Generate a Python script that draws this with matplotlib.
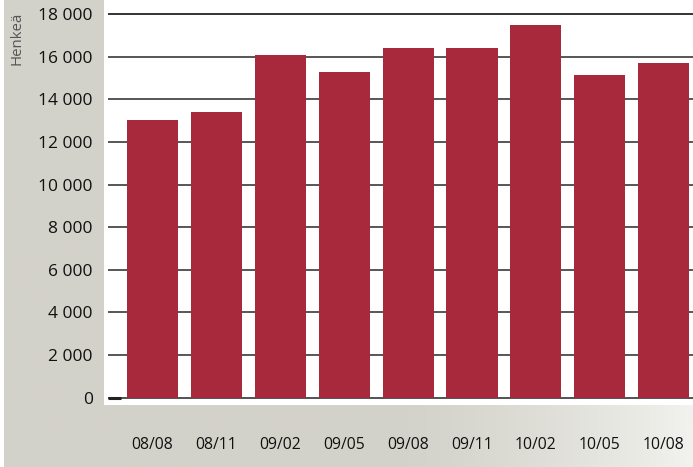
import numpy as np
import matplotlib.pyplot as plt
from matplotlib.patches import Rectangle

# data
periods = ["08/08", "08/11", "09/02", "09/05", "09/08", "09/11", "10/02", "10/05", "10/08"]
persons = [13050, 13400, 16100, 15300, 16400, 16400, 17500, 15150, 15700]
yticks = [0, 2000, 4000, 6000, 8000, 10000, 12000, 14000, 16000, 18000]

W, H = 693, 467
fig = plt.figure(figsize=(W / 100, H / 100), dpi=100)

# gray gradient background
bg = fig.add_axes([0, 0, 1, 1])
t = np.linspace(0, 1, 300)
shade = np.where(t < 0.55, 0.0, ((t - 0.55) / 0.45) ** 1.5)
c0 = np.array([211, 210, 202]) / 255
c1 = np.array([242, 242, 238]) / 255
grad = c0[None, :] + shade[:, None] * (c1 - c0)[None, :]
bg.imshow(grad[None, :, :], aspect="auto", extent=[0, 1, 0, 1])
bg.add_patch(Rectangle((0, 0), 4 / W, 1, color="white", lw=0))
bg.set_xlim(0, 1)
bg.set_ylim(0, 1)
bg.axis("off")

left, top, bottom = 104, 0, 405
ax = fig.add_axes([left / W, 1 - bottom / H, 1 - left / W, (bottom - top) / H])
ax.set_facecolor("white")

x = np.arange(len(periods))
pitch = 63.9
x0 = (left - 152.5) / pitch
x1 = (W - 152.5) / pitch
xg = (108 - 152.5) / pitch
ax.set_xlim(x0, x1)
ax.set_ylim(-342, 18657)

for v in yticks[1:]:
    ax.hlines(v, xg, x1, color="#111111" if v == 18000 else "#3a3a3a", lw=1.2, zorder=1)
ax.hlines(0, xg, x1, color="#444444", lw=1.3, zorder=1)
ax.hlines(0, xg, xg + 0.2, color="#222222", lw=2.2, zorder=4)

ax.bar(x, persons, width=0.8, color="#a8293b", zorder=3)

for s in ax.spines.values():
    s.set_visible(False)

ax.set_yticks(yticks)
ax.set_yticklabels([f"{v:,}".replace(",", " ") for v in yticks],
                   fontsize=12.5, color="#111111", family="Open Sans")
ax.tick_params(axis="y", length=0, pad=8)
ax.set_xticks(x)
ax.set_xticklabels(periods, fontsize=11.3, color="#111111", family="Open Sans")
ax.tick_params(axis="x", length=0, pad=23)

fig.text(17 / W, 1 - 38 / H, "Henkeä", rotation=90, ha="center", va="center",
         fontsize=10.8, color="#555555", family="Open Sans")

fig.savefig("out.png", dpi=100)
